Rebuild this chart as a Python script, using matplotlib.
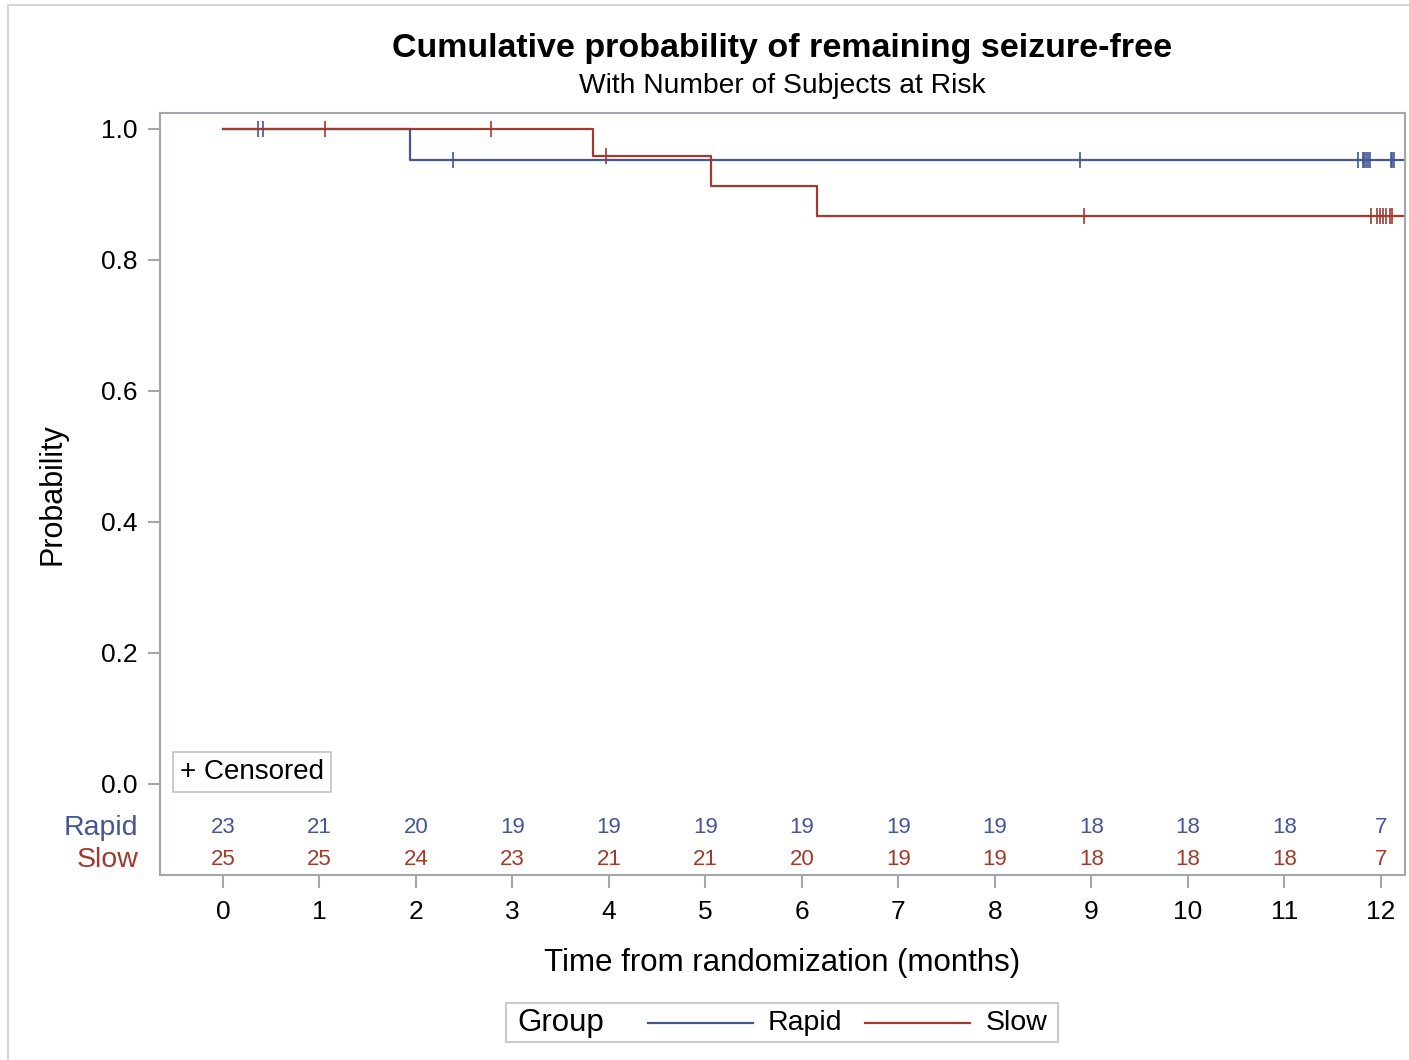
import numpy as np
import matplotlib
matplotlib.use('Agg')
import matplotlib.pyplot as plt
from matplotlib.lines import Line2D
from matplotlib.patches import Rectangle
import matplotlib.transforms as mtransforms

plt.rcParams['font.family'] = ['Liberation Sans', 'DejaVu Sans']

# Kaplan-Meier step curves (months, survival)
rapid_time = [0, 1.94, 12.23]
rapid_surv = [1.0, 0.952, 0.952]
slow_time = [0, 3.83, 5.06, 6.16, 12.23]
slow_surv = [1.0, 0.958, 0.913, 0.867, 0.867]

# censored observations
rapid_cens = [0.36, 0.41, 2.38, 8.88, 11.76, 11.81, 11.83, 11.85, 11.87, 11.89,
              12.10, 12.12, 12.14]
slow_cens = [1.06, 2.78, 3.97, 8.92, 11.90, 11.96, 11.99, 12.02, 12.05, 12.09, 12.12]

# number at risk
risk_times = list(range(13))
rapid_risk = [23, 21, 20, 19, 19, 19, 19, 19, 19, 18, 18, 18, 7]
slow_risk = [25, 25, 24, 23, 21, 21, 20, 19, 19, 18, 18, 18, 7]

blue = '#445694'
red = '#A23A2E'
gray = '#A3A6AA'

fig = plt.figure(figsize=(14.09, 10.60), dpi=100)
ax = fig.add_axes([160/1409, 1-875/1060, 1245/1409, 762/1060])


def surv_at(times, surv, t):
    idx = np.searchsorted(times, t, side='right') - 1
    return np.array(surv)[idx]


for times, surv, cens, col in [(rapid_time, rapid_surv, rapid_cens, blue),
                               (slow_time, slow_surv, slow_cens, red)]:
    ax.step(times, surv, where='post', color=col, lw=1.6)
    ax.plot(cens, surv_at(times, surv, cens), linestyle='none', marker='|',
            markersize=11, markeredgewidth=1.2, color=col)

ax.set_xlim(-0.653, 12.25)
ax.set_ylim(-0.139, 1.024)
ax.set_yticks([0, 0.2, 0.4, 0.6, 0.8, 1.0])
ax.set_yticklabels(['0.0', '0.2', '0.4', '0.6', '0.8', '1.0'])
ax.set_xticks(risk_times)
ax.tick_params(axis='both', colors=gray, labelcolor='black', labelsize=19,
               length=9, width=1.5)
ax.tick_params(axis='y', pad=7)
ax.tick_params(axis='x', pad=9)
for sp in ax.spines.values():
    sp.set_color(gray)
    sp.set_linewidth(1.5)

ax.set_ylabel('Probability', fontsize=22, labelpad=24)
ax.set_xlabel('Time from randomization (months)', fontsize=22.5, labelpad=17)

# at-risk table
for t, r, s in zip(risk_times, rapid_risk, slow_risk):
    ax.text(t, -0.067, str(r), color=blue, fontsize=16, ha='center', va='center')
    ax.text(t, -0.116, str(s), color=red, fontsize=16, ha='center', va='center')
trans = mtransforms.blended_transform_factory(ax.transAxes, ax.transData)
ax.text(-0.0175, -0.067, 'Rapid', color=blue, fontsize=20.5, ha='right', va='center', transform=trans)
ax.text(-0.0175, -0.116, 'Slow', color=red, fontsize=20.5, ha='right', va='center', transform=trans)

ax.text(0.016, 0.135, '+ Censored', fontsize=20, ha='left', va='center', transform=ax.transAxes,
        bbox=dict(boxstyle='square,pad=0.25', facecolor='white', edgecolor='#CCCCCC', lw=1.5))

fig.text(782/1409, 1-49/1060, 'Cumulative probability of remaining seizure-free',
         fontsize=24.5, fontweight='bold', ha='center', va='center')
fig.text(782/1409, 1-86/1060, 'With Number of Subjects at Risk',
         fontsize=20.3, ha='center', va='center')

# bottom legend
fig.add_artist(Rectangle((506/1409, 1-1042/1060), 552/1409, 39/1060, transform=fig.transFigure,
                         facecolor='white', edgecolor='#CCCCCC', lw=1.5))
ly = 1-1023/1060
fig.text(517/1409, ly, 'Group', fontsize=22.5, ha='left', va='center')
fig.add_artist(Line2D([648/1409, 753/1409], [ly, ly], color=blue, lw=1.6, transform=fig.transFigure))
fig.text(768/1409, ly, 'Rapid', fontsize=20.5, ha='left', va='center')
fig.add_artist(Line2D([865/1409, 970/1409], [ly, ly], color=red, lw=1.6, transform=fig.transFigure))
fig.text(986/1409, ly, 'Slow', fontsize=20.5, ha='left', va='center')

# outer frame of the screenshot
fig.add_artist(Rectangle((8/1409, -0.05), 1.1, 1-5/1060+0.05, transform=fig.transFigure,
                         facecolor='none', edgecolor='#D5D5D5', lw=1.5, clip_on=False))

fig.savefig('out.png', dpi=100)
